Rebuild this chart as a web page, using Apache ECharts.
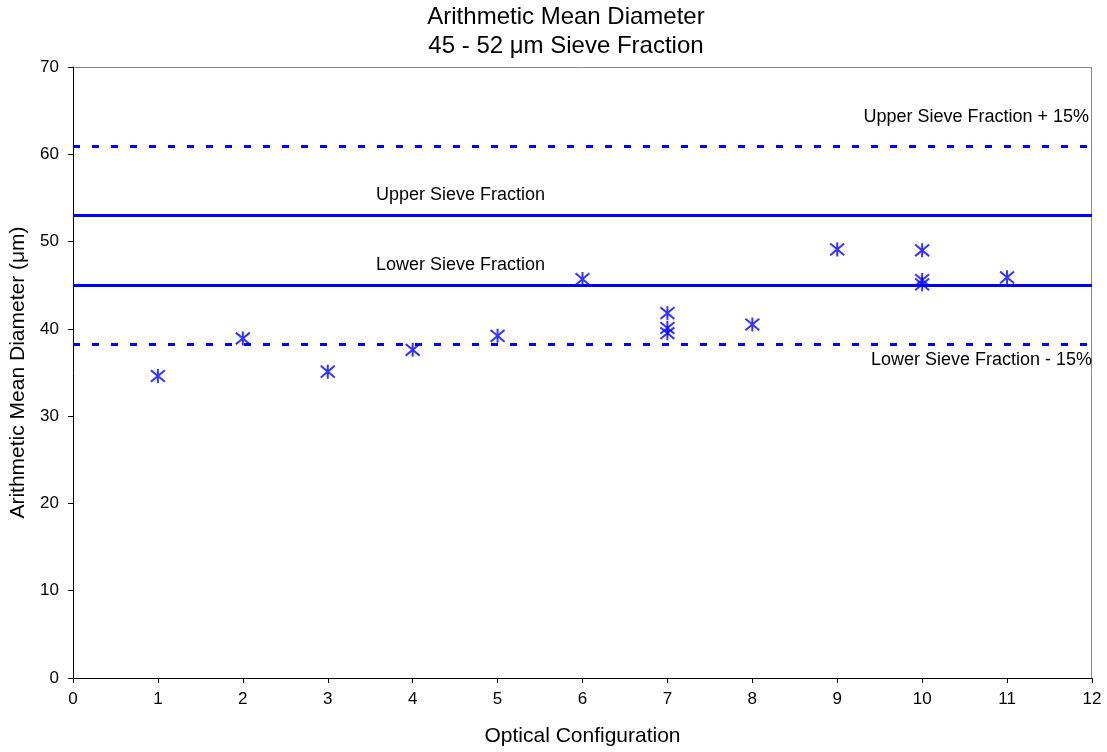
<!DOCTYPE html>
<html>
<head>
<meta charset="utf-8">
<script src="https://cdn.jsdelivr.net/npm/echarts@6/dist/echarts.min.js"></script>
<style>
  body { margin: 0; background: #fff; }
  #chart { width: 1107px; height: 752px; }
</style>
</head>
<body>
<div id="chart"></div>
<script>
// measured points (optical configuration, mean diameter in um)
const configs = [1, 2, 3, 4, 5, 6, 7, 7, 7, 8, 9, 10, 10, 10, 11];
const diameters = [34.6, 38.9, 35.1, 37.6, 39.2, 45.7, 41.8, 40.1, 39.5, 40.5, 49.1, 49.0, 45.6, 45.1, 45.9];

// reference lines
const limitNames = ["Upper Sieve Fraction + 15%", "Upper Sieve Fraction", "Lower Sieve Fraction", "Lower Sieve Fraction - 15%"];
const limitValues = [60.95, 53, 45, 38.25];
const limitDashed = [true, false, false, true];

const xTicks = [0, 12, 1];
const yTicks = [0, 70, 10];

const blue = "#0000ff";
const font = "Liberation Sans, Arial, sans-serif";

const chart = echarts.init(document.getElementById("chart"));

const limitSeries = limitNames.map((name, i) => {
  const label = { show: true, color: "#000", fontSize: 18, fontFamily: font, formatter: name };
  if (i === 0) {
    label.position = "insideEndTop";
    label.distance = [3, 20];
  } else if (i === 3) {
    label.position = "insideEndBottom";
    label.distance = [0, 7];
  } else {
    label.position = "insideStartTop";
    label.distance = [0, 11];
    label.padding = [0, 0, 0, 303];
  }
  return {
    name: name,
    type: "line",
    data: [],
    markLine: {
      silent: true,
      symbol: ["none", "none"],
      lineStyle: {
        color: blue,
        width: 3,
        type: limitDashed[i] ? [7, 12] : "solid",
      },
      label: label,
      data: [{ yAxis: limitValues[i] }],
    },
  };
});

const option = {
  animation: false,
  title: {
    text: "Arithmetic Mean Diameter\n45 - 52 μm Sieve Fraction",
    left: 561,
    top: -2,
    textAlign: "center",
    textStyle: { fontSize: 24, fontWeight: "normal", color: "#000", fontFamily: font, lineHeight: 29 },
  },
  grid: { left: 73, right: 15, top: 67, bottom: 74, outerBoundsMode: "none" },
  xAxis: {
    type: "value",
    min: xTicks[0],
    max: xTicks[1],
    interval: xTicks[2],
    name: "Optical Configuration",
    nameLocation: "middle",
    nameGap: 48,
    nameTextStyle: { fontSize: 21, color: "#000", fontFamily: font },
    axisLine: { show: true, onZero: false, lineStyle: { color: "#000", width: 1 } },
    axisTick: { show: true, length: 5, lineStyle: { color: "#000" } },
    axisLabel: { fontSize: 17, color: "#000", fontFamily: font, margin: 13 },
    splitLine: { show: false },
  },
  yAxis: {
    type: "value",
    min: yTicks[0],
    max: yTicks[1],
    interval: yTicks[2],
    name: "Arithmetic Mean Diameter (μm)",
    nameLocation: "middle",
    nameGap: 42,
    nameTextStyle: { fontSize: 21, color: "#000", fontFamily: font },
    axisLine: { show: true, lineStyle: { color: "#000", width: 1 } },
    axisTick: { show: true, length: 5, lineStyle: { color: "#000" } },
    axisLabel: { fontSize: 17, color: "#000", fontFamily: font, margin: 14 },
    splitLine: { show: false },
  },
  series: [
    ...limitSeries,
    {
      name: "data",
      type: "scatter",
      z: 5,
      symbol: "path://M0,0L10,10M10,0L0,10M5,-1L5,11",
      symbolSize: 14,
      itemStyle: { color: "none", borderColor: blue, borderWidth: 2 },
      data: configs.map((c, i) => [c, diameters[i]]),
    },
  ],
};

chart.setOption(option);

// gray frame on top / right of the plot area
const rect = chart.getModel().getComponent("grid").coordinateSystem.getRect();
chart.setOption({
  graphic: [
    { type: "line", shape: { x1: rect.x, y1: rect.y + 0.5, x2: rect.x + rect.width, y2: rect.y + 0.5 }, style: { stroke: "#888", lineWidth: 1 }, z: 0 },
    { type: "line", shape: { x1: rect.x + rect.width - 0.5, y1: rect.y, x2: rect.x + rect.width - 0.5, y2: rect.y + rect.height }, style: { stroke: "#888", lineWidth: 1 }, z: 0 },
  ],
});
</script>
</body>
</html>
